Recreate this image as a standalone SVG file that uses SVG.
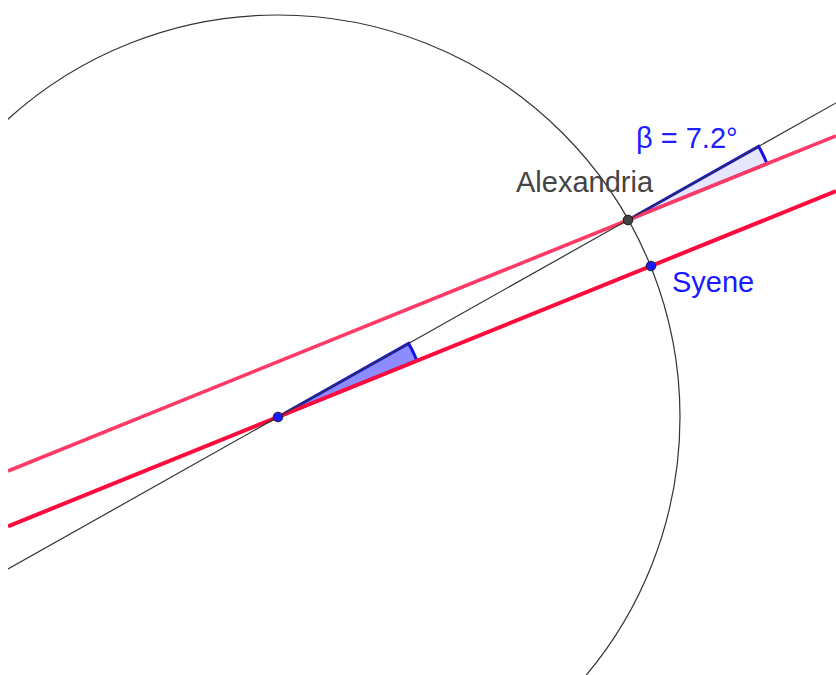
<svg xmlns="http://www.w3.org/2000/svg" width="836" height="675" viewBox="0 0 836 675">
<style>
.thin{stroke:#333;stroke-width:1.2;fill:none}
.red{stroke:#ff0a3c;stroke-width:4;fill:none}
.pink{stroke:#ff3a66;stroke-width:3.6;fill:none}
.ang{stroke:#1414e6;stroke-width:3;stroke-linejoin:miter}
.lbl{font-family:"Liberation Sans",Arial,sans-serif;font-size:29px}
</style>
<defs><clipPath id="c"><rect x="8" y="0" width="828" height="675"/></clipPath></defs>
<rect width="836" height="675" fill="#fff"/>
<g id="connectors" clip-path="url(#c)">
<circle id="circle" class="thin" cx="278" cy="417" r="402"/>
<path class="ang" fill="#8c8cff" d="M278,417 L408.7,343.4 A150,150 0 0,1 417,360.7 Z"/>
<path class="ang" fill="#e6e6ff" d="M628,220 L758.7,146.4 A150,150 0 0,1 767,163.7 Z"/>
<line class="red" x1="8" y1="526.3" x2="836" y2="191.1"/>
<line class="pink" x1="8" y1="471" x2="836" y2="135.8"/>
<line class="thin" x1="8" y1="569" x2="836" y2="102.9"/>
</g>
<g id="center"><circle cx="278" cy="417" r="4.8" fill="#1a1aff" stroke="#222" stroke-width="1"/></g>
<g id="alexandria"><circle cx="628" cy="220" r="4.8" fill="#444" stroke="#111" stroke-width="1"/><text class="lbl" x="516" y="192" fill="#444">Alexandria</text></g>
<g id="syene"><circle cx="651" cy="266" r="4.8" fill="#1a1aff" stroke="#222" stroke-width="1"/><text class="lbl" x="672" y="292" fill="#1a1aff">Syene</text></g>
<g id="beta"><text class="lbl" x="636" y="148" fill="#2020ff">β = 7.2°</text></g>
</svg>
